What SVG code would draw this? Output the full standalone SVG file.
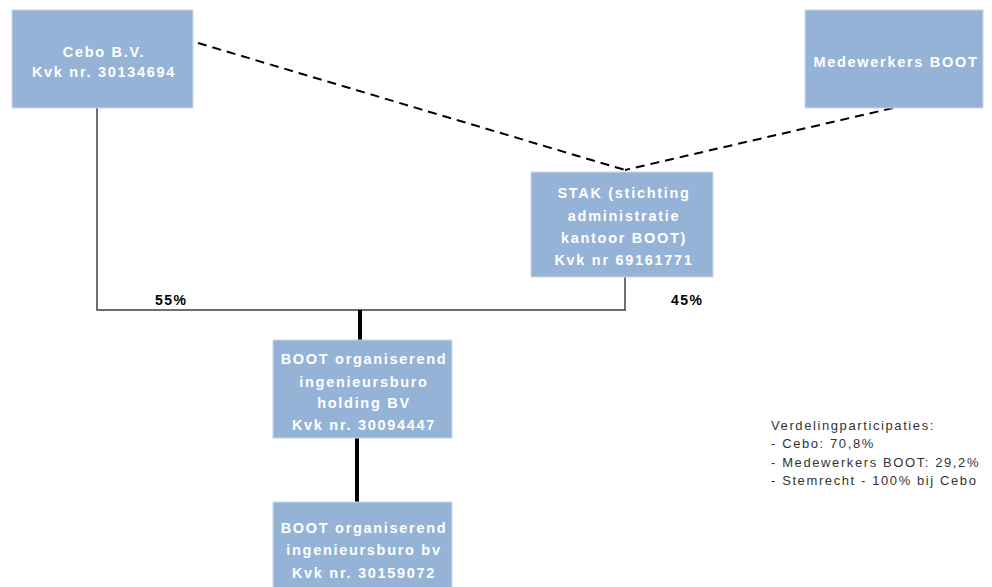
<svg xmlns="http://www.w3.org/2000/svg" width="992" height="587" viewBox="0 0 992 587">
<style>
.box{fill:#95B3D7;stroke:#c9d7ea;stroke-width:1}
.t{font-family:"Liberation Sans",Arial,sans-serif;font-size:14.5px;font-weight:bold;fill:#ffffff;text-anchor:middle;letter-spacing:1.7px}
.pct{font-family:"Liberation Sans",Arial,sans-serif;font-size:14px;font-weight:bold;fill:#000000;letter-spacing:1.5px}
.note{font-family:"Liberation Sans",Arial,sans-serif;font-size:13px;fill:#333333;letter-spacing:1.6px}
.thin{stroke:#404040;stroke-width:1.5;fill:none}
.thick{stroke:#000000;stroke-width:4;fill:none}
.dash{stroke:#000000;stroke-width:2;stroke-dasharray:9,6;fill:none}
</style>
<rect width="992" height="587" fill="#ffffff"/>
<g id="connectors">
<line class="dash" x1="198" y1="43" x2="625" y2="170"/>
<line class="dash" x1="893" y1="108" x2="625" y2="170"/>
<polyline class="thin" points="97,108 97,310 625,310 625,277"/>
<line class="thick" x1="360" y1="310" x2="360" y2="340"/>
<line class="thick" x1="357" y1="438" x2="357" y2="502"/>
</g>
<g id="cebo">
<rect class="box" x="12" y="10" width="181" height="98"/>
<text class="t" x="104" y="57">Cebo B.V.</text>
<text class="t" x="104" y="77">Kvk nr. 30134694</text>
</g>
<g id="medewerkers">
<rect class="box" x="805" y="10" width="178" height="98"/>
<text class="t" x="896" y="67">Medewerkers BOOT</text>
</g>
<g id="stak">
<rect class="box" x="531" y="172" width="182" height="105"/>
<text class="t" x="624" y="198">STAK (stichting</text>
<text class="t" x="624" y="221">administratie</text>
<text class="t" x="624" y="243">kantoor BOOT)</text>
<text class="t" x="624" y="265">Kvk nr 69161771</text>
</g>
<g id="holding">
<rect class="box" x="273" y="340" width="179" height="98"/>
<text class="t" x="364" y="364">BOOT organiserend</text>
<text class="t" x="364" y="387">ingenieursburo</text>
<text class="t" x="364" y="408">holding BV</text>
<text class="t" x="364" y="430">Kvk nr. 30094447</text>
</g>
<g id="bv">
<rect class="box" x="273" y="502" width="179" height="90"/>
<text class="t" x="364" y="533">BOOT organiserend</text>
<text class="t" x="364" y="555">ingenieursburo bv</text>
<text class="t" x="364" y="578">Kvk nr. 30159072</text>
</g>
<g id="labels">
<text class="pct" x="155" y="305">55%</text>
<text class="pct" x="671" y="305">45%</text>
</g>
<g id="note">
<text class="note" x="771" y="430">Verdelingparticipaties:</text>
<text class="note" x="771" y="448">- Cebo: 70,8%</text>
<text class="note" x="771" y="467">- Medewerkers BOOT: 29,2%</text>
<text class="note" x="771" y="485">- Stemrecht - 100% bij Cebo</text>
</g>
</svg>
